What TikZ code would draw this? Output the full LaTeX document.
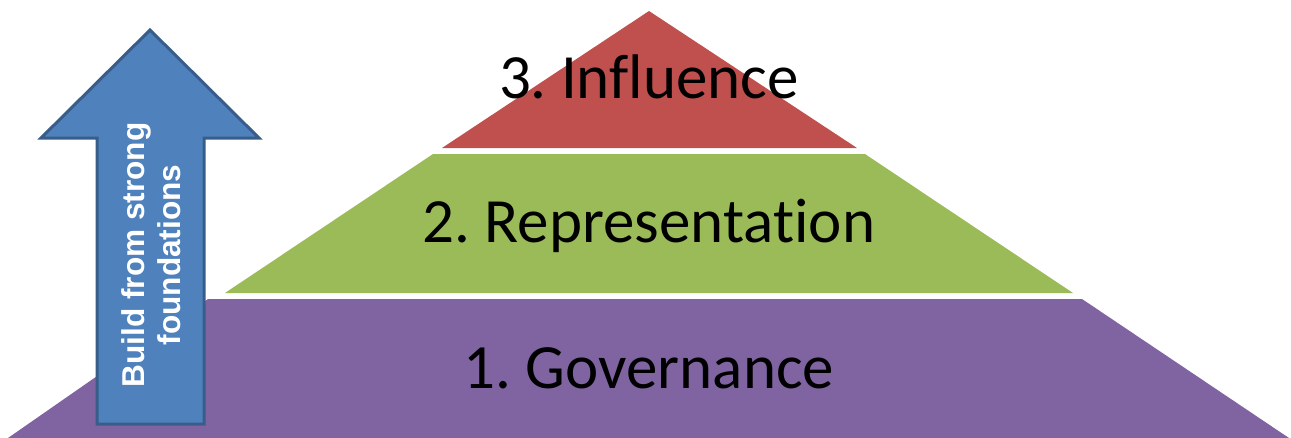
\documentclass[tikz,border=0pt]{standalone}
\usepackage{fontspec}
\setmainfont{Carlito}[Ligatures=NoCommon]
\newfontfamily\arrowfont{Liberation Sans}
\definecolor{tierred}{HTML}{C0504D}
\definecolor{tiergreen}{HTML}{9BBB59}
\definecolor{tierpurple}{HTML}{8064A2}
\definecolor{arrowfill}{HTML}{4F81BD}
\definecolor{arrowline}{HTML}{385D8A}
\begin{document}
\begin{tikzpicture}[x=1pt,y=-1pt,
  tier/.style={anchor=base,inner sep=0pt,font=\fontsize{63}{70}\selectfont,text=black},
  arrowlabel/.style={rotate=90,align=center,inner sep=0pt,text=white,
    font=\arrowfont\bfseries\fontsize{31.6}{36}\selectfont}]
\useasboundingbox (0,0) rectangle (1291,437);
% pyramid tiers
\fill[tierpurple] (208,299) -- (1082,299) -- (1289,438) -- (8,438) -- cycle;
\fill[tiergreen] (433,154) -- (865,154) -- (1073,293) -- (225,293) -- cycle;
\fill[tierred] (649,11) -- (857,148) -- (442,148) -- cycle;
\node[tier] (t3) at (649,98) {3.~Influence};
\node[tier] (t2) at (649,242) {2.~Representation};
\node[tier] (t1) at (649,388) {1.~Governance};
% arrow
\draw[fill=arrowfill,draw=arrowline,line width=3pt,line join=miter]
  (150,30) -- (259,138) -- (204,138) -- (204,424) -- (97,424) -- (97,138) -- (41,138) -- cycle;
\node[arrowlabel] (lab) at (151,255) {Build from strong\\foundations};
\end{tikzpicture}
\end{document}
